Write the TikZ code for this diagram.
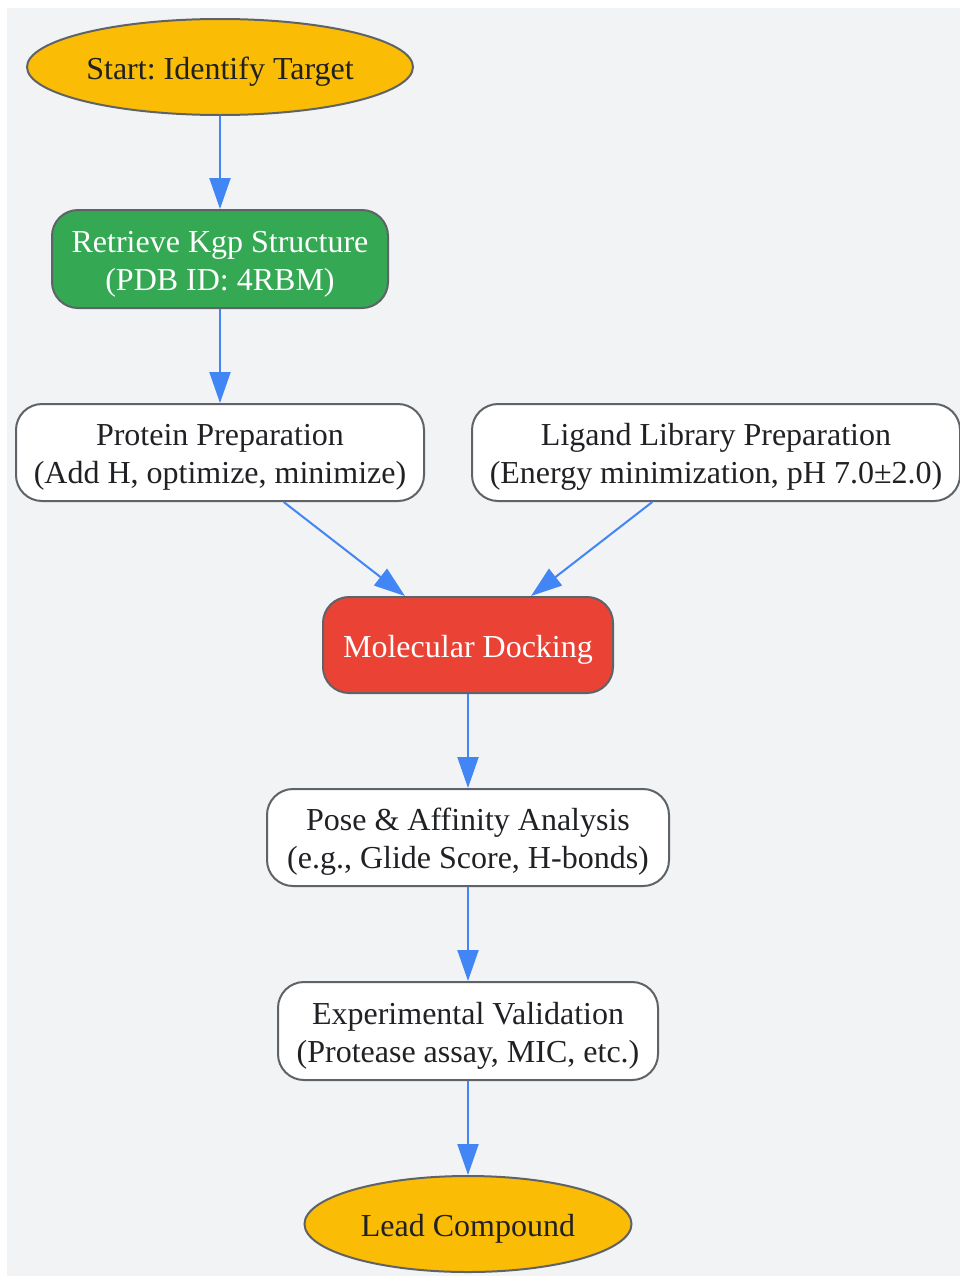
\documentclass[tikz,border=0pt]{standalone}
\usepackage{fontspec}
\setmainfont{Liberation Serif}
\usetikzlibrary{shapes.geometric,arrows.meta}
\frenchspacing
\definecolor{bgc}{HTML}{F1F3F5}
\definecolor{bordc}{HTML}{5F6368}
\definecolor{txtc}{HTML}{202124}
\definecolor{yel}{HTML}{FABC05}
\definecolor{grn}{HTML}{34A853}
\definecolor{redc}{HTML}{EA4335}
\definecolor{arr}{HTML}{4285F4}
\newcommand{\lifttext}[1]{\raisebox{-4.5pt}[\height][\depth]{\begin{tabular}{@{}c@{}}#1\end{tabular}}}
\tikzset{
  base/.style={draw=bordc, line width=2pt, text=txtc, inner sep=0pt,
    font=\fontsize{32}{38}\selectfont\frenchspacing},
  oval/.style={base, ellipse, fill=yel},
  rbox/.style={base, rectangle, rounded corners=26pt, fill=white},
  flow/.style={draw=arr, line width=2pt, -{Triangle[length=31pt,width=21pt]}},
}
\begin{document}
\begin{tikzpicture}[x=1pt,y=-1pt]
\useasboundingbox (0,0) rectangle (960,1277);
\fill[bgc] (7,8) rectangle (960,1276);
\node[oval, minimum width=386pt, minimum height=96pt] (start) at (220,67) {\lifttext{Start: Identify Target}};
\node[rbox, fill=grn, text=white, minimum width=336pt, minimum height=98pt] (kgp) at (220,259) {\lifttext{Retrieve Kgp Structure\\(PDB ID: 4RBM)}};
\node[rbox, minimum width=408pt, minimum height=97pt] (prot) at (220,452.5) {\lifttext{Protein Preparation\\(Add H, optimize, minimize)}};
\node[rbox, minimum width=488pt, minimum height=97pt] (lig) at (716,452.5) {\lifttext{Ligand Library Preparation\\(Energy minimization, pH 7.0±2.0)}};
\node[rbox, fill=redc, text=white, minimum width=290pt, minimum height=96pt] (dock) at (468,645) {\lifttext{Molecular Docking}};
\node[rbox, minimum width=402pt, minimum height=97pt] (pose) at (468,837.5) {\lifttext{Pose \& Affinity Analysis\\(e.g., Glide Score, H-bonds)}};
\node[rbox, minimum width=380pt, minimum height=98pt] (exp) at (468,1031) {\lifttext{Experimental Validation\\(Protease assay, MIC, etc.)}};
\node[oval, minimum width=327pt, minimum height=96pt] (lead) at (468,1224) {\lifttext{Lead Compound}};
\draw[flow] (start) -- (kgp);
\draw[flow] (kgp) -- (prot);
\draw[flow] (prot) -- (dock);
\draw[flow] (lig) -- (dock);
\draw[flow] (dock) -- (pose);
\draw[flow] (pose) -- (exp);
\draw[flow] (exp) -- (lead);
\end{tikzpicture}
\end{document}
